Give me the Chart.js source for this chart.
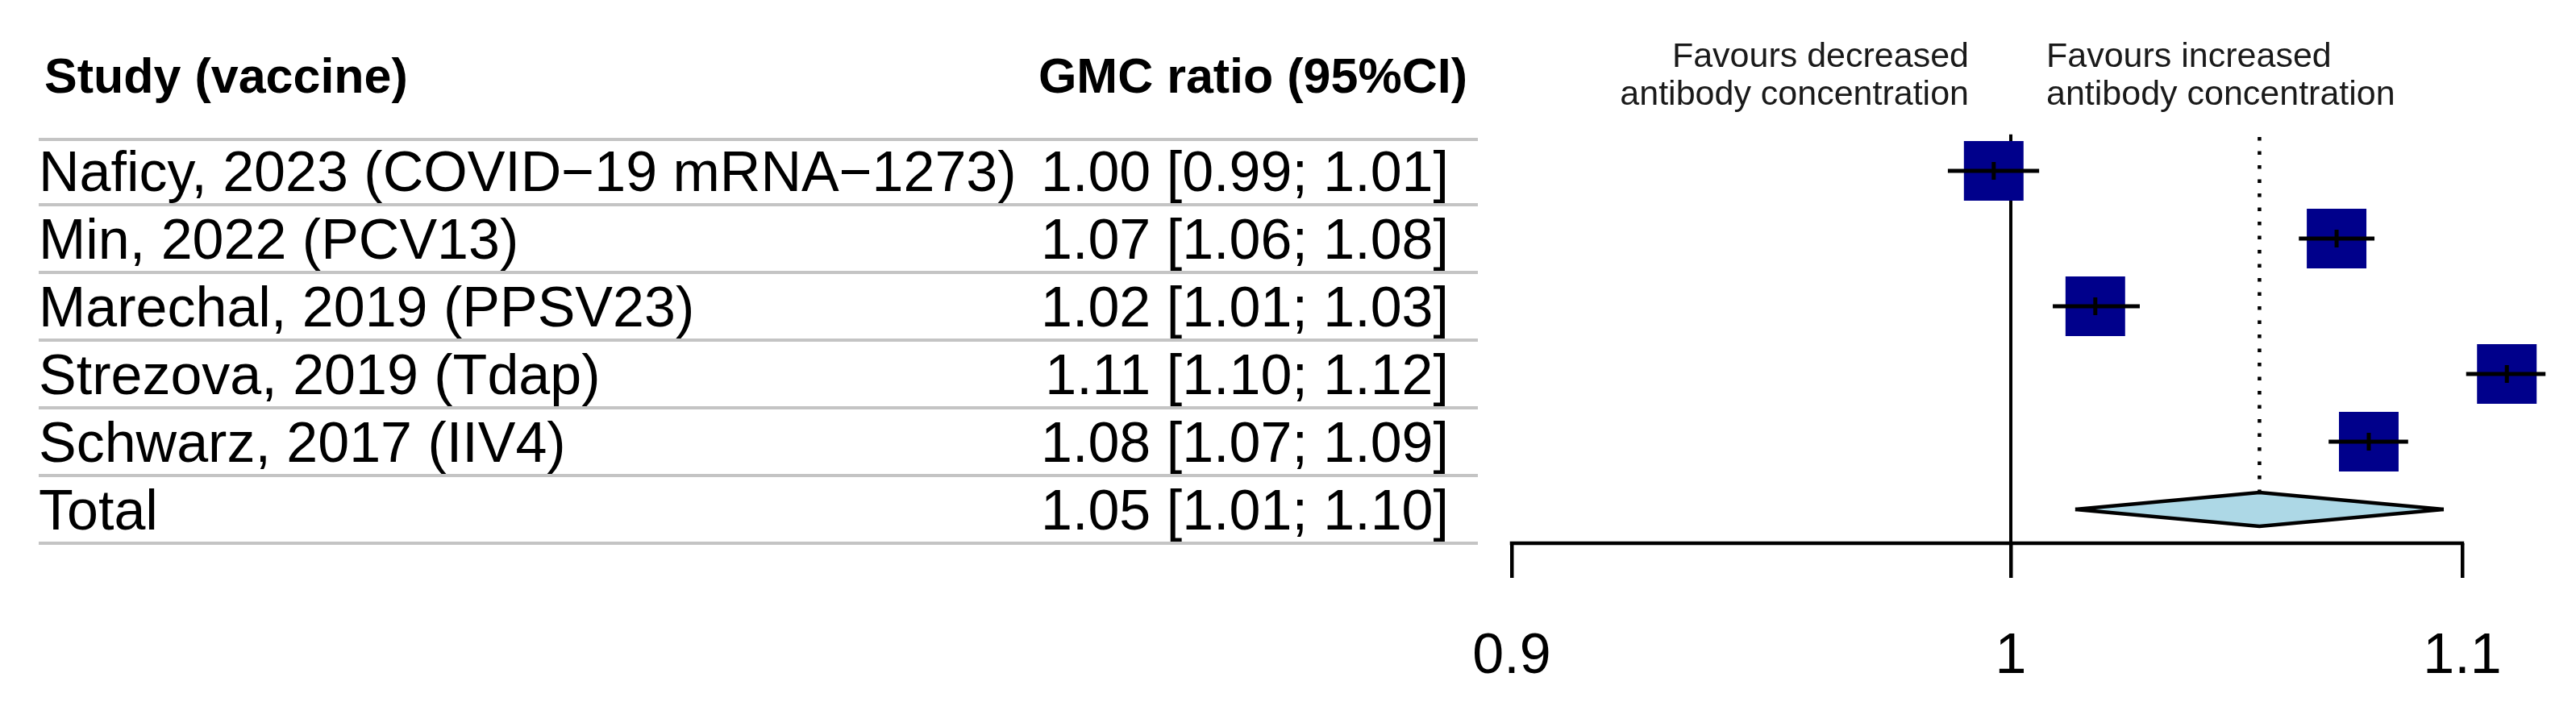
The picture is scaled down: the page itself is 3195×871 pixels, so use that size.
<!DOCTYPE html>
<html>
<head>
<meta charset="utf-8">
<script src="https://cdn.jsdelivr.net/npm/chart.js@4/dist/chart.umd.min.js"></script>
<style>
html, body { margin: 0; padding: 0; background: #fff; }
#wrap { position: relative; width: 3195px; height: 871px; overflow: hidden; background: #fff; }
#c { position: absolute; left: 0; top: 0; }
.t { position: absolute; line-height: 0; white-space: nowrap; font-family: "Liberation Sans", Arial, Helvetica, sans-serif; color: #000; }
.rule { position: absolute; height: 3.5px; background: #c4c4c4; }
</style>
</head>
<body>
<div id="wrap"><canvas id="c" width="3195" height="871"></canvas></div>
<script>
// ---------------- data ----------------
const studies = [
  'Naficy, 2023 (COVID\u221219 mRNA\u22121273)',
  'Min, 2022 (PCV13)',
  'Marechal, 2019 (PPSV23)',
  'Strezova, 2019 (Tdap)',
  'Schwarz, 2017 (IIV4)'
];
const estimate = [0.9964, 1.0712, 1.0180, 1.1104, 1.0785];
const ciLower  = [0.9868, 1.0627, 1.0089, 1.1009, 1.0694];
const ciUpper  = [1.0060, 1.0798, 1.0276, 1.1195, 1.0875];
const ciLabels = [
  '1.00 [0.99; 1.01]',
  '1.07 [1.06; 1.08]',
  '1.02 [1.01; 1.03]',
  '1.11 [1.10; 1.12]',
  '1.08 [1.07; 1.09]'
];
const totalName = 'Total';
const totalEstimate = 1.0539;
const totalLower = 1.0137;
const totalUpper = 1.0957;
const totalCiLabel = '1.05 [1.01; 1.10]';
const headers = ['Study (vaccine)', 'GMC ratio (95%CI)'];
const favourLeft = ['Favours decreased', 'antibody concentration'];
const favourRight = ['Favours increased', 'antibody concentration'];
const xTicks = [0.9, 1, 1.1];
const xTickLabels = ['0.9', '1', '1.1'];
const nullValue = 1;

// ---------------- style constants ----------------
const W = 3195;
const FONT = '"Liberation Sans", Arial, Helvetica, sans-serif';
const SQUARE_COLOR = '#00008B';
const DIAMOND_FILL = '#ADD8E6';
const DIAMOND_HALF = 0.25;
const PX_PER_LN = 5875; // horizontal zoom of the log axis
const totalRow = studies.length + 1;

// ---------------- datasets ----------------
const datasets = [];

// reference line at null value
datasets.push({
  type: 'line', data: [{x: nullValue, y: 0.46}, {x: nullValue, y: totalRow + 0.5}],
  borderColor: '#000', borderWidth: 4, pointRadius: 0, fill: false, clip: false, order: 10
});
// pooled estimate dotted line
datasets.push({
  type: 'line', data: [{x: totalEstimate, y: 0.5}, {x: totalEstimate, y: totalRow - DIAMOND_HALF}],
  borderColor: '#000', borderWidth: 4.5, borderDash: [4.5, 13], borderCapStyle: 'butt',
  pointRadius: 0, fill: false, clip: false, order: 9
});
// study squares
datasets.push({
  type: 'scatter', data: estimate.map((v, i) => ({x: v, y: i + 1})),
  pointStyle: 'rect', pointRadius: 52.3, pointHoverRadius: 52.3,
  pointBackgroundColor: SQUARE_COLOR, pointBorderColor: SQUARE_COLOR, pointBorderWidth: 0,
  clip: false, order: 6
});
// confidence interval whiskers
studies.forEach((s, i) => {
  datasets.push({
    type: 'line', data: [{x: ciLower[i], y: i + 1}, {x: ciUpper[i], y: i + 1}],
    borderColor: '#000', borderWidth: 5, borderCapStyle: 'butt', pointRadius: 0, fill: false, clip: false, order: 4
  });
});
// centre tick marks
datasets.push({
  type: 'scatter', data: estimate.map((v, i) => ({x: v, y: i + 1})),
  pointStyle: 'line', pointRotation: 90, pointRadius: 11, pointHoverRadius: 11,
  pointBorderColor: '#000', pointBorderWidth: 5, clip: false, order: 2
});
// diamond (upper half, lower half filled to upper)
datasets.push({
  type: 'line',
  data: [{x: totalLower, y: totalRow}, {x: totalEstimate, y: totalRow - DIAMOND_HALF}, {x: totalUpper, y: totalRow}],
  borderColor: '#000', borderWidth: 4.5, borderJoinStyle: 'miter', pointRadius: 0, fill: false, clip: false, order: 1
});
datasets.push({
  type: 'line',
  data: [{x: totalLower, y: totalRow}, {x: totalEstimate, y: totalRow + DIAMOND_HALF}, {x: totalUpper, y: totalRow}],
  borderColor: '#000', borderWidth: 4.5, borderJoinStyle: 'miter', pointRadius: 0,
  fill: '-1', backgroundColor: DIAMOND_FILL, clip: false, order: 1
});

// axis baseline from first to last tick
const axisLinePlugin = {
  id: 'axisLine',
  afterDatasetsDraw(chart) {
    const {ctx, scales: {x}, chartArea} = chart;
    const x0 = x.getPixelForValue(xTicks[0]);
    const x1 = x.getPixelForValue(xTicks[xTicks.length - 1]);
    ctx.save();
    ctx.strokeStyle = '#000';
    ctx.lineWidth = 4.5;
    ctx.lineCap = 'square';
    ctx.beginPath();
    ctx.moveTo(x0, chartArea.bottom);
    ctx.lineTo(x1, chartArea.bottom);
    ctx.stroke();
    ctx.restore();
  }
};

const chart = new Chart(document.getElementById('c'), {
  type: 'scatter',
  data: { datasets },
  plugins: [axisLinePlugin],
  options: {
    responsive: false,
    devicePixelRatio: 1,
    animation: false,
    events: [],
    layout: { padding: { left: 1875, right: 9, top: 170, bottom: 0 } },
    plugins: { legend: { display: false }, tooltip: { enabled: false } },
    scales: {
      x: {
        type: 'logarithmic',
        position: 'bottom',
        min: xTicks[0],
        max: 1.125,
        afterBuildTicks: (s) => { s.ticks = xTicks.map(v => ({value: v})); },
        afterFit: (s) => { s.height = 197; },
        ticks: {
          autoSkip: false, maxRotation: 0, minRotation: 0,
          padding: 57,
          color: '#000',
          font: { family: FONT, size: 70 },
          callback: (v, i) => xTickLabels[i]
        },
        grid: { display: true, drawOnChartArea: false, drawTicks: true, tickLength: 43, color: '#000', lineWidth: 4.5 },
        border: { display: false }
      },
      y: {
        type: 'linear', min: 0.5, max: totalRow + 0.5, reverse: true, display: false
      }
    }
  }
});
// set the upper limit so the log axis has the intended horizontal zoom
chart.options.scales.x.max = xTicks[0] * Math.exp((chart.chartArea.right - chart.chartArea.left) / PX_PER_LN);
chart.update();

// ---------------- table text (real HTML text) ----------------
const wrap = document.getElementById('wrap');
const MID = 0.3465; // (ascent - descent) / 2 for Liberation Sans
function addText(str, o) {
  const d = document.createElement('div');
  d.className = 't';
  d.textContent = str;
  d.style.fontSize = o.size + 'px';
  if (o.bold) d.style.fontWeight = 'bold';
  if (o.color) d.style.color = o.color;
  d.style.top = (o.baseline - MID * o.size) + 'px';
  if (o.right !== undefined) { d.style.right = (W - o.right) + 'px'; d.style.textAlign = 'right'; }
  else d.style.left = o.left + 'px';
  wrap.appendChild(d);
}
function addRule(y) {
  const d = document.createElement('div');
  d.className = 'rule';
  d.style.top = (y - 1.75) + 'px';
  d.style.left = '48px';
  d.style.width = '1785px';
  wrap.appendChild(d);
}
const ys = chart.scales.y, xs = chart.scales.x;
const ROW_FS = 70, HEAD_FS = 61, CAP = 0.358;

addText(headers[0], {left: 55, baseline: 115, size: HEAD_FS, bold: true});
addText(headers[1], {right: 1820, baseline: 115, size: HEAD_FS, bold: true});
addRule(ys.getPixelForValue(0.5) + 3);

const names = studies.concat([totalName]);
const cis = ciLabels.concat([totalCiLabel]);
names.forEach((n, i) => {
  const yc = ys.getPixelForValue(i + 1);
  addText(n, {left: 48, baseline: yc + CAP * ROW_FS, size: ROW_FS});
  addText(cis[i], {right: 1797, baseline: yc + CAP * ROW_FS, size: ROW_FS});
  addRule(ys.getPixelForValue(i + 1.5));
});

const xNull = xs.getPixelForValue(nullValue);
const CAP_FS = 43;
addText(favourLeft[0], {right: xNull - 52, baseline: 83, size: CAP_FS, color: '#1a1a1a'});
addText(favourLeft[1], {right: xNull - 52, baseline: 130, size: CAP_FS, color: '#1a1a1a'});
addText(favourRight[0], {left: xNull + 44, baseline: 83, size: CAP_FS, color: '#1a1a1a'});
addText(favourRight[1], {left: xNull + 44, baseline: 130, size: CAP_FS, color: '#1a1a1a'});
</script>
</body>
</html>
